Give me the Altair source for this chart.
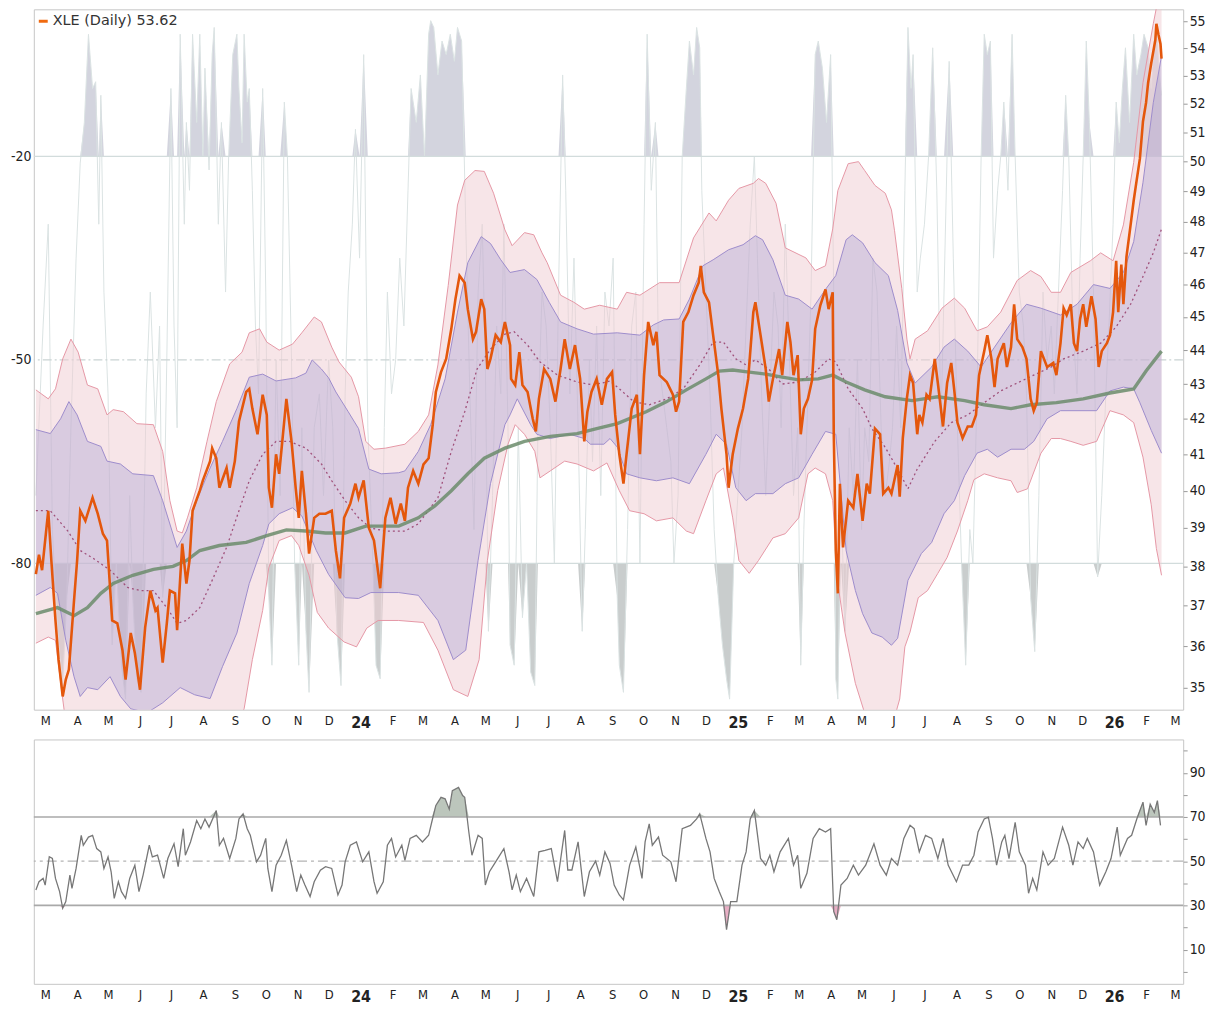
import altair as alt
import pandas as pd

START = pd.Timestamp("2023-02-20")

# ---- series: (day offset from START, value) ----
price = [(0,37.8),(3,38.3),(6,37.9),(12,39.46),(15,38.15),(19,36.63),(22,35.67),(26,34.79),(29,35.19),(32,35.43),(37,37.13),(40,38.15),(43,39.46),(48,39.19),(55,39.81),(60,39.38),(65,38.85),(69,38.67),(74,36.63),(79,36.56),(84,35.9),(87,35.19),(92,36.32),(96,35.83),(101,34.95),(106,36.46),(111,37.38),(116,36.88),(118,36.95),(123,35.6),(127,36.56),(130,37.38),(135,37.31),(137,36.39),(142,38.59),(146,37.56),(149,38.15),(152,39.46),(159,40.0),(162,40.28),(169,40.81),(171,41.17),(175,40.89),(178,40.08),(185,40.62),(188,40.08),(193,40.81),(197,41.92),(204,42.77),(207,42.86),(210,42.29),(215,41.56),(220,42.69),(224,42.11),(226,40.08),(229,39.54),(233,41.0),(236,40.46),(243,42.57),(248,41.36),(252,40.08),(255,39.27),(258,40.54),(262,39.38),(265,38.33),(270,39.27),(275,39.38),(281,39.38),(287,39.46),(291,38.41),(295,37.69),(299,39.27),(305,39.65),(310,40.19),(313,39.81),(318,40.28),(323,39.0),(328,38.67),(334,37.44),(339,39.27),(344,39.81),(349,39.11),(354,39.65),(358,39.19),(361,40.08),(366,40.54),(371,40.19),(376,40.72),(381,40.89),(385,41.83),(388,42.77),(393,43.35),(398,43.74),(403,44.64),(407,45.55),(411,46.28),(416,46.06),(419,45.24),(424,44.33),(427,44.55),(432,45.55),(435,45.24),(438,43.44),(441,43.74),(446,44.45),(451,44.24),(455,44.85),(460,44.15),(461,43.15),(465,42.97),(469,43.94),(472,42.97),(477,42.77),(482,42.0),(485,41.64),(488,42.57),(493,43.44),(499,43.15),(504,42.49),(509,43.44),(513,44.33),(518,43.44),(523,44.15),(528,43.15),(532,41.36),(535,42.2),(539,42.77),(544,43.15),(549,42.4),(554,43.15),(559,43.35),(562,42.11),(566,41.0),(570,40.19),(573,41.0),(578,42.29),(583,42.69),(586,41.0),(590,43.26),(594,44.85),(599,44.15),(602,44.55),(605,43.26),(612,43.06),(618,42.69),(621,42.2),(624,42.49),(628,44.85),(633,45.15),(638,45.67),(643,46.06),(645,46.59),(648,45.76),(653,45.45),(657,44.45),(662,43.26),(665,42.29),(670,41.0),(672,40.08),(676,41.0),(681,41.72),(686,42.29),(691,43.15),(696,45.15),(698,45.45),(703,44.45),(708,43.44),(711,42.49),(715,43.15),(721,44.03),(724,43.26),(729,44.85),(732,44.24),(735,43.26),(739,43.85),(742,41.56),(745,42.29),(749,42.57),(753,43.12),(756,44.64),(761,45.36),(766,45.85),(769,45.24),(773,45.76),(774,41.64),(776,38.41),(778,37.31),(780,40.19),(783,38.49),(788,39.73),(793,39.54),(797,40.46),(802,39.19),(806,40.19),(809,39.92),(814,41.72),(819,41.56),(822,39.92),(827,40.08),(830,39.92),(836,40.7),(838,39.84),(841,41.45),(845,42.6),(848,43.26),(851,43.03),(855,41.56),(857,42.11),(860,41.89),(864,42.69),(867,42.57),(872,43.74),(875,43.03),(880,41.78),(884,43.03),(888,43.62),(891,42.8),(894,41.89),(899,41.45),(904,41.78),(908,41.78),(912,42.11),(915,43.26),(920,43.97),(923,44.45),(927,43.74),(930,42.91),(933,43.74),(939,44.21),(942,43.5),(946,44.09),(949,45.39),(952,44.33),(957,44.09),(961,43.74),(965,42.57),(968,42.23),(971,42.46),(975,43.97),(981,43.5),(987,43.62),(990,43.26),(994,44.21),(997,45.27),(1000,45.06),(1004,45.39),(1007,44.21),(1010,43.97),(1013,44.94),(1016,45.39),(1019,44.7),(1024,45.64),(1028,44.94),(1031,43.5),(1034,43.97),(1039,44.21),(1042,44.45),(1045,45.15),(1048,46.75),(1050,45.15),(1053,46.63),(1055,45.39),(1058,46.88),(1062,47.9),(1065,48.7),(1067,49.17),(1071,50.1),(1074,51.38),(1077,52.04),(1079,52.75),(1082,53.45),(1086,54.3),(1087,54.9),(1089,54.5),(1091,54.15),(1092,53.62)]

outer_upper = [(0,42.83),(12,42.57),(19,42.86),(26,43.74),(34,44.33),(41,43.94),(50,42.97),(60,42.86),(69,42.11),(75,42.26),(85,42.2),(98,41.86),(114,41.83),(123,41.08),(130,39.73),(137,38.92),(142,38.87),(147,39.27),(156,40.08),(166,41.36),(175,42.49),(188,43.59),(200,43.94),(207,44.52),(217,44.64),(224,44.24),(236,44.0),(249,44.18),(258,44.52),(270,45.0),(277,44.85),(287,44.09),(294,43.65),(306,43.2),(313,42.63),(320,41.36),(328,41.14),(339,41.17),(358,41.28),(371,41.64),(381,42.11),(390,43.56),(400,45.97),(409,48.55),(416,49.37),(426,49.7),(435,49.67),(444,48.94),(455,47.74),(462,47.23),(474,47.65),(483,47.58),(491,47.0),(496,46.69),(509,45.67),(522,45.45),(532,45.24),(547,45.36),(564,45.24),(573,45.76),(586,45.67),(605,46.06),(624,46.06),(638,47.48),(653,48.29),(660,48.03),(672,48.71),(682,49.1),(696,49.27),(701,49.43),(708,49.27),(718,48.61),(727,47.16),(747,46.84),(756,46.44),(766,46.59),(773,47.77),(778,49.03),(788,49.93),(798,50.0),(804,49.7),(814,49.2),(824,48.94),(830,48.39),(833,47.71),(840,45.88),(845,44.33),(848,43.74),(853,44.33),(865,44.58),(879,45.27),(891,45.58),(901,45.27),(913,44.58),(923,44.7),(936,45.15),(952,46.13),(965,46.44),(975,46.25),(985,45.76),(994,45.76),(1004,46.38),(1023,46.75),(1033,47.0),(1045,46.75),(1055,47.9),(1065,49.97),(1074,52.75),(1084,54.9),(1092,56.5)]

inner_upper = [(0,41.69),(14,41.58),(24,42.0),(32,42.49),(40,42.11),(50,41.36),(63,41.22),(69,40.81),(82,40.73),(94,40.46),(114,40.41),(123,39.73),(137,38.49),(146,38.92),(156,39.73),(169,40.62),(181,41.36),(195,42.29),(207,43.2),(220,43.29),(233,43.09),(252,43.18),(262,43.32),(268,43.71),(277,43.44),(284,43.18),(291,42.77),(303,42.2),(313,41.72),(323,40.59),(335,40.46),(352,40.49),(358,40.54),(371,41.08),(383,41.83),(397,43.15),(409,45.15),(419,46.69),(432,47.52),(441,47.3),(451,46.78),(460,46.38),(474,46.47),(486,46.16),(498,45.45),(509,44.85),(525,44.64),(541,44.48),(564,44.52),(586,44.45),(599,44.76),(609,44.91),(624,44.94),(634,45.55),(647,46.59),(657,46.78),(672,47.1),(686,47.26),(698,47.55),(705,47.42),(715,46.78),(727,45.67),(740,45.55),(753,45.24),(766,45.85),(776,46.28),(786,47.42),(792,47.58),(802,47.32),(814,46.69),(827,46.28),(836,45.2),(845,43.62),(853,43.03),(869,43.5),(881,44.09),(891,44.33),(904,43.97),(917,43.5),(930,44.09),(946,44.82),(961,45.39),(975,45.27),(994,45.06),(1010,45.39),(1026,46.0),(1042,45.88),(1055,46.38),(1065,47.36),(1074,49.3),(1084,52.04),(1092,53.72)]

middle = [(0,39.46),(14,39.46),(31,38.92),(43,38.41),(56,38.2),(72,37.9),(89,37.46),(101,37.38),(114,37.38),(127,36.95),(137,36.56),(146,36.63),(159,36.95),(171,37.64),(185,38.49),(197,39.46),(207,40.27),(220,41.0),(233,41.36),(246,41.36),(262,41.17),(277,40.73),(287,40.27),(300,39.73),(313,39.27),(325,39.0),(339,38.92),(358,38.92),(371,39.11),(390,39.81),(403,41.08),(416,42.2),(428,43.44),(441,44.03),(455,44.48),(464,44.55),(477,44.15),(489,43.65),(506,43.26),(525,43.06),(541,42.97),(557,43.09),(566,42.86),(580,42.49),(595,42.4),(612,42.57),(628,42.86),(644,43.56),(657,44.24),(667,44.24),(679,43.74),(689,43.56),(698,43.71),(711,43.44),(724,43.0),(740,43.06),(756,43.35),(769,43.74),(776,43.65),(788,42.86),(802,42.29),(811,41.72),(824,41.19),(836,40.59),(846,40.05),(855,40.59),(872,41.36),(888,41.89),(904,42.11),(920,42.46),(936,42.8),(952,43.03),(968,43.26),(985,43.5),(997,43.74),(1016,43.97),(1033,44.21),(1048,44.7),(1062,45.39),(1074,46.25),(1084,47.0),(1092,47.77)]

inner_lower = [(0,37.26),(14,37.46),(21,37.31),(29,36.14),(37,35.26),(43,34.79),(50,35.0),(60,34.95),(72,35.26),(82,34.79),(92,34.5),(108,34.41),(123,34.64),(140,35.0),(154,34.83),(169,34.74),(181,35.5),(195,36.32),(207,37.56),(220,38.54),(226,39.11),(236,39.38),(249,39.54),(258,39.32),(272,38.41),(284,37.79),(300,37.2),(313,37.18),(325,37.33),(352,37.33),(371,37.26),(390,36.63),(405,35.67),(417,35.9),(429,38.15),(441,40.19),(455,41.83),(460,42.11),(467,42.57),(480,41.83),(486,41.56),(499,41.44),(518,41.56),(532,41.44),(538,41.28),(551,41.28),(557,41.44),(564,41.2),(573,40.46),(586,40.35),(602,40.27),(618,40.35),(634,40.19),(650,41.0),(660,41.56),(670,41.28),(679,40.08),(689,39.73),(698,39.92),(715,39.92),(727,40.19),(740,40.35),(753,41.0),(766,41.64),(776,41.56),(786,38.41),(795,37.38),(802,36.8),(811,36.32),(821,36.22),(830,36.02),(836,36.19),(846,37.64),(859,38.33),(869,38.62),(881,39.38),(891,39.73),(901,40.41),(913,41.03),(923,41.14),(933,40.92),(946,41.14),(959,41.14),(968,41.36),(981,42.0),(994,42.23),(1010,42.23),(1029,42.23),(1042,42.8),(1055,42.91),(1065,42.86),(1071,42.46),(1082,41.67),(1092,41.03)]

outer_lower = [(0,36.07),(12,36.22),(19,36.14),(26,34.73),(30,34.0),(111,33.0),(196,34.2),(202,34.5),(210,35.67),(220,36.88),(226,37.97),(236,38.67),(248,38.8),(255,38.54),(265,37.77),(273,36.83),(284,36.44),(299,36.1),(311,35.98),(321,36.44),(332,36.63),(352,36.63),(376,36.58),(390,35.9),(405,34.95),(419,34.79),(430,35.67),(438,38.15),(448,40.0),(458,41.28),(465,41.83),(474,41.56),(484,41.08),(489,40.35),(499,40.54),(513,40.81),(525,40.73),(541,40.54),(554,40.76),(566,40.0),(576,39.46),(590,39.38),(602,39.19),(618,39.27),(631,38.92),(638,38.85),(650,39.73),(660,40.46),(667,40.62),(676,39.27),(682,38.15),(692,37.82),(701,38.15),(715,38.74),(727,38.85),(740,39.27),(749,40.46),(756,40.62),(766,40.46),(773,39.73),(778,37.56),(785,36.32),(795,35.1),(804,34.4),(819,33.8),(833,34.3),(838,34.73),(843,35.98),(848,36.34),(856,37.2),(865,37.38),(875,37.82),(884,38.23),(894,38.92),(904,39.73),(910,40.3),(920,40.46),(933,40.35),(946,40.27),(952,39.95),(962,40.05),(975,41.03),(985,41.44),(994,41.44),(1004,41.36),(1016,41.25),(1029,41.36),(1042,42.23),(1055,42.11),(1065,41.89),(1074,40.92),(1082,39.62),(1087,38.46),(1092,37.77)]

ma_long = [(0,36.8),(21,36.95),(37,36.75),(50,36.95),(63,37.31),(75,37.56),(94,37.77),(114,37.92),(133,38.0),(146,38.15),(159,38.41),(178,38.54),(204,38.62),(224,38.8),(243,38.95),(262,38.92),(281,38.87),(300,38.87),(320,39.05),(352,39.05),(371,39.27),(387,39.59),(403,40.0),(419,40.46),(435,40.89),(455,41.17),(474,41.36),(499,41.5),(525,41.58),(544,41.72),(564,41.86),(592,42.2),(612,42.49),(631,42.83),(650,43.15),(663,43.38),(676,43.41),(692,43.35),(708,43.29),(724,43.2),(740,43.12),(759,43.15),(773,43.26),(786,43.06),(804,42.83),(824,42.63),(850,42.52),(875,42.63),(901,42.52),(920,42.4),(946,42.29),(965,42.4),(990,42.46),(1016,42.57),(1042,42.74),(1065,42.86),(1077,43.38),(1092,43.97)]

williams_r = [(0,-70),(7,-45),(12,-30),(16,-75),(21,-90),(26,-98),(30,-85),(34,-60),(39,-35),(43,-21),(47,-15),(51,-2),(55,-10),(58,-9),(61,-30),(63,-11),(66,-40),(70,-55),(74,-92),(78,-80),(83,-95),(87,-100),(91,-70),(94,-85),(98,-97),(102,-99),(107,-55),(111,-40),(116,-60),(120,-45),(123,-85),(127,-50),(131,-10),(134,-45),(137,-60),(140,-2),(144,-30),(146,-15),(149,-25),(152,-2),(156,-15),(159,-2),(162,-20),(164,-7),(168,-22),(171,-5),(173,-1),(177,-30),(180,-15),(184,-40),(187,-20),(191,-5),(195,-2),(197,-10),(200,-18),(202,-2),(205,-12),(207,-10),(210,-25),(213,-45),(216,-55),(220,-10),(223,-40),(226,-85),(229,-95),(233,-50),(237,-70),(241,-12),(244,-20),(248,-50),(251,-80),(255,-95),(258,-60),(262,-90),(265,-99),(270,-60),(275,-55),(279,-70),(284,-50),(288,-60),(292,-90),(296,-98),(300,-55),(303,-40),(307,-30),(310,-16),(314,-35),(318,-5),(322,-60),(327,-80),(330,-95),(334,-97),(338,-60),(341,-40),(345,-55),(349,-50),(353,-35),(357,-45),(361,-25),(364,-10),(369,-15),(373,-8),(377,-20),(381,-2),(383,0),(386,-1),(390,-8),(394,-3),(398,-5),(402,-2),(406,-6),(409,-1),(413,-3),(417,-30),(421,-55),(425,-75),(429,-40),(433,-30),(436,-50),(439,-90),(443,-70),(447,-45),(451,-55),(454,-30),(458,-60),(460,-92),(464,-95),(468,-60),(472,-88),(476,-80),(480,-96),(484,-98),(487,-60),(491,-40),(495,-45),(499,-60),(503,-80),(507,-40),(511,-8),(514,-25),(518,-55),(522,-35),(526,-60),(530,-90),(533,-75),(537,-50),(540,-65),(544,-45),(548,-70),(552,-40),(556,-45),(560,-35),(564,-85),(566,-95),(570,-99),(574,-75),(578,-45),(582,-40),(586,-80),(590,-30),(593,-2),(597,-25),(601,-15),(604,-50),(608,-55),(612,-60),(616,-65),(619,-80),(623,-70),(627,-20),(631,-10),(634,-3),(638,-8),(641,-1),(644,-4),(646,-25),(650,-40),(654,-55),(658,-75),(662,-85),(666,-92),(670,-97),(673,-100),(677,-80),(681,-70),(685,-60),(689,-45),(693,-30),(697,-20),(700,-35),(704,-55),(708,-70),(712,-55),(716,-40),(720,-45),(723,-60),(727,-30),(731,-50),(735,-70),(739,-60),(742,-95),(745,-75),(749,-55),(752,-40),(756,-5),(759,-3),(763,-7),(767,-15),(771,-5),(774,-40),(776,-97),(778,-100),(781,-70),(785,-90),(789,-60),(793,-70),(797,-50),(801,-75),(804,-60),(808,-65),(812,-35),(816,-40),(820,-60),(824,-70),(828,-65),(831,-60),(835,-45),(839,-60),(843,-25),(846,-1),(849,-10),(851,-5),(855,-40),(858,-35),(862,-30),(866,-20),(870,-4),(874,-25),(878,-60),(881,-40),(886,-6),(890,-35),(894,-60),(898,-80),(902,-95),(906,-75),(909,-80),(913,-55),(917,-20),(920,-2),(923,-5),(926,-3),(929,-35),(933,-25),(936,-20),(939,-12),(943,-25),(947,-2),(950,-20),(954,-40),(958,-45),(961,-55),(965,-85),(969,-93),(973,-70),(977,-40),(981,-50),(985,-45),(988,-55),(992,-40),(996,-25),(999,-11),(1002,-20),(1006,-45),(1010,-55),(1013,-35),(1016,-20),(1019,-3),(1022,-15),(1026,-40),(1030,-82),(1034,-70),(1038,-55),(1041,-45),(1045,-30),(1048,-12),(1051,-18),(1054,-10),(1057,-4),(1061,-15),(1065,-2),(1068,-8),(1072,-5),(1075,-2),(1079,-4),(1082,-10),(1085,-3),(1087,-1),(1090,-8),(1092,-11)]

rsi = [(0,37),(3,40.7),(7,42.2),(9,39.2),(13,52),(16,51.2),(19,42.2),(23,36.2),(26,28.7),(29,31.7),(33,43.7),(35,37.7),(39,46.7),(44,61.7),(46,57.2),(51,60.9),(55,61.7),(59,55.7),(63,54.2),(66,46.7),(70,51.9),(73,45.2),(76,33.2),(80,40.7),(83,36.2),(87,33.2),(91,42.2),(96,48.2),(100,36.2),(104,43.7),(110,57.2),(113,51.9),(118,52.7),(124,42.2),(128,51.2),(134,57.9),(138,47.5),(143,64.7),(145,52.7),(150,58.7),(156,68.4),(160,64.7),(164,69.1),(168,65.4),(175,72.9),(178,57.2),(182,60.3),(188,51.2),(194,60.3),(197,69.1),(201,71.4),(205,64.7),(208,61.7),(214,49.7),(218,52.7),(223,60.3),(225,46.7),(229,36.2),(233,48.2),(238,52.7),(243,59.4),(248,48.2),(253,36.2),(257,43.7),(261,39.2),(266,34),(270,40.7),(276,45.9),(281,47.5),(287,46.7),(293,34.7),(297,39.2),(300,49.7),(305,57.2),(311,58.7),(317,49.7),(323,54.2),(328,40.7),(331,35.5),(337,40.7),(341,57.2),(345,60.3),(349,51.9),(355,57.2),(358,50.4),(363,60.3),(369,61.7),(375,58.7),(381,61.7),(384,67.6),(388,75.2),(393,78.9),(397,78.2),(401,73.5),(404,81.9),(410,83.4),(414,79.7),(416,78.9),(420,63.2),(423,52.7),(429,61.7),(433,60.3),(436,39.2),(440,45.2),(446,49.7),(454,55.7),(459,45.2),(462,37),(466,43.7),(470,36.2),(476,42.2),(483,34),(488,54.2),(494,54.9),(500,55.7),(506,40.7),(513,63.9),(516,46),(520,46),(526,58.7),(532,34),(537,45.2),(543,50),(547,43.7),(552,54.2),(557,49),(561,39.2),(566,34.7),(570,32.5),(576,48.2),(582,56.4),(588,42.2),(591,58.7),(595,66.9),(598,57.2),(604,60.9),(608,52.7),(616,49.7),(621,40.7),(627,64.7),(635,66.2),(641,69.1),(644,71.4),(650,60.3),(654,54.2),(658,42.2),(663,36.2),(667,31.7),(670,19),(674,31.7),(680,31.7),(685,48.2),(689,54.2),(693,69.1),(697,72.9),(703,51.2),(708,48.2),(712,52.7),(716,45.2),(722,54.2),(730,60.3),(735,48.2),(739,52.7),(742,37.7),(748,44.5),(754,60.3),(760,64.7),(766,63.2),(771,64.7),(774,27.2),(777,23.5),(781,39.2),(787,42.2),(793,48.2),(798,43.7),(805,48.2),(813,57.9),(819,48.2),(825,43.7),(830,51.2),(836,48.2),(842,60.3),(848,66.2),(852,64.7),(857,54.2),(863,61.7),(869,60.3),(875,51.2),(880,60.3),(885,48.2),(893,40.7),(899,48.2),(905,48.2),(910,52.7),(914,63.2),(920,69.1),(924,69.9),(928,60.3),(932,48.2),(937,58.7),(940,61.7),(944,51.2),(950,67.6),(954,54.2),(960,48.2),(963,35.5),(967,42.2),(971,37),(977,54.2),(982,48.2),(988,51.2),(996,65.4),(1002,57.2),(1006,48.2),(1011,58.7),(1016,55.7),(1020,60.3),(1026,54.2),(1032,39.2),(1038,45.2),(1043,51.2),(1049,65.4),(1052,52.7),(1059,60.3),(1063,61.7),(1068,69.1),(1074,76.7),(1077,66.2),(1081,75.8),(1085,72.1),(1088,77.4),(1091,66.2)]

price_axis_ticks = list(range(35, 56))
wr_levels_solid = [-20, -80]
wr_level_mid = [-50]
rsi_levels_solid = [70, 30]
rsi_level_mid = [50]
legend_label = ["XLE (Daily) 53.62"]


def frame(points, name):
    return pd.DataFrame({
        "date": START + pd.to_timedelta([p[0] for p in points], unit="D"),
        name: [p[1] for p in points],
    })


def polygon(upper, lower):
    pts = list(upper) + list(reversed(lower))
    out = frame(pts, "v")
    out["o"] = range(len(pts))
    return out


FONT = "Liberation Sans Narrow, DejaVu Sans Condensed, Arial Narrow, sans-serif"

month_ticks = [alt.DateTime(year=t.year, month=t.month, date=1)
               for t in pd.date_range("2023-03-01", "2026-03-01", freq="MS")]
x_scale = alt.Scale(domain=[alt.DateTime(year=2023, month=2, date=18),
                            alt.DateTime(year=2026, month=3, date=9)])
x_axis = alt.Axis(
    values=month_ticks,
    labelExpr="month(datum.value) == 0 ? timeFormat(datum.value, '%y') : slice(timeFormat(datum.value, '%b'), 0, 1)",
    labelFontWeight=alt.condition("month(datum.value) == 0", alt.value("bold"), alt.value("normal")),
    labelFontSize=alt.condition("month(datum.value) == 0", alt.value(16), alt.value(13)),
    labelFont=FONT, labelColor="#222", tickSize=0, domain=False, grid=False,
    labelPadding=5, labelFlush=False, labelOverlap=False, title=None)
X = alt.X("date:T", scale=x_scale, axis=x_axis, title=None)

# ---------------- top panel: Williams %R (left) ----------------
wr_scale = alt.Scale(domain=[-101.55, 1.67], nice=False, zero=False)
wr_axis = alt.Axis(orient="left", values=[-20, -50, -80],
                   labelExpr="'-' + format(abs(datum.value), 'd')",
                   labelFont=FONT, labelFontSize=14, labelColor="#222",
                   tickSize=0, labelPadding=3, domain=False, grid=False,
                   minExtent=25, maxExtent=25, title=None)

wr_df = frame(williams_r, "r")

def WY(field):
    return alt.Y(field, scale=wr_scale, axis=wr_axis, title=None)

wr_line = alt.Chart(wr_df).mark_line(color="#dbe3e3", strokeWidth=1, clip=True).encode(x=X, y=WY("r:Q"))
wr_hi = alt.Chart(wr_df).transform_calculate(top="max(datum.r, -20)", base="-20").mark_area(
    color="#d3d4de", opacity=1, clip=True).encode(x=X, y=WY("top:Q"), y2="base:Q")
wr_lo = alt.Chart(wr_df).transform_calculate(bot="min(datum.r, -80)", base="-80").mark_area(
    color="#c9cdcd", opacity=1, clip=True).encode(x=X, y=WY("bot:Q"), y2="base:Q")
wr_rules = alt.Chart(pd.DataFrame({"r": wr_levels_solid})).mark_rule(
    color="#d2dcdc", strokeWidth=1.2).encode(y=WY("r:Q"))
wr_rule_mid = alt.Chart(pd.DataFrame({"r": wr_level_mid})).mark_rule(
    color="#cad4d4", strokeWidth=1.2, strokeDash=[9, 3, 2, 3]).encode(y=WY("r:Q"))

wr_group = alt.layer(wr_hi, wr_lo, wr_line, wr_rules, wr_rule_mid)

# ---------------- top panel: price (right, log) ----------------
p_scale = alt.Scale(type="log", domain=[34.48, 55.44], nice=False, zero=False)
p_axis = alt.Axis(orient="right", values=price_axis_ticks, format="d",
                  labelFont=FONT, labelFontSize=14, labelColor="#222",
                  tickSize=4, tickColor="#999", labelPadding=2,
                  domain=False, grid=False, title=None)

def PY(field):
    return alt.Y(field, scale=p_scale, axis=p_axis, title=None)

outer_poly = alt.Chart(polygon(outer_upper, outer_lower)).mark_line(
    fill="#f0cbd2", fillOpacity=0.5, strokeOpacity=0, clip=True).encode(x=X, y=PY("v:Q"), order="o:Q")
inner_poly = alt.Chart(polygon(inner_upper, inner_lower)).mark_line(
    fill="#a09cd0", fillOpacity=0.35, strokeOpacity=0, clip=True).encode(x=X, y=PY("v:Q"), order="o:Q")

def band_line(points, color):
    return alt.Chart(frame(points, "v")).mark_line(color=color, strokeWidth=1, clip=True).encode(x=X, y=PY("v:Q"))

ou_line = band_line(outer_upper, "#e597a5")
ol_line = band_line(outer_lower, "#e597a5")
iu_line = band_line(inner_upper, "#9d8ccc")
il_line = band_line(inner_lower, "#9d8ccc")
mid_line = alt.Chart(frame(middle, "v")).mark_line(
    color="#a0507a", strokeWidth=1.3, strokeDash=[2, 3], clip=True).encode(x=X, y=PY("v:Q"))
ma_line = alt.Chart(frame(ma_long, "v")).mark_line(
    color="#6b8c6b", strokeWidth=3.4, opacity=0.85, clip=True).encode(x=X, y=PY("v:Q"))
price_line = alt.Chart(frame(price, "v")).mark_line(
    color="#e4570c", strokeWidth=2.6, clip=True).encode(x=X, y=PY("v:Q"))

legend_df = pd.DataFrame({"t": legend_label})
legend_dash = alt.Chart(legend_df).mark_rule(color="#f06a10", strokeWidth=3).encode(
    x=alt.value(5), x2=alt.value(14), y=alt.value(12))
legend_text = alt.Chart(legend_df).mark_text(
    align="left", baseline="middle", font="DejaVu Sans", fontSize=14.5, color="#333").encode(
    x=alt.value(19), y=alt.value(12), text="t:N")

p_group = alt.layer(outer_poly, inner_poly, ou_line, ol_line, iu_line, il_line,
                    mid_line, ma_line, price_line, legend_dash, legend_text)

top = alt.layer(wr_group, p_group).resolve_scale(y="independent").properties(width=1157, height=705)

# ---------------- bottom panel: RSI ----------------
rsi_scale = alt.Scale(domain=[-5.5, 105.06], nice=False, zero=False)
rsi_axis = alt.Axis(orient="right", values=list(range(0, 101, 10)),
                    labelExpr="datum.value % 20 == 10 ? datum.label : ''",
                    labelFont=FONT, labelFontSize=14, labelColor="#222",
                    tickSize=4, tickColor="#999", labelPadding=2,
                    domain=False, grid=False, title=None)

def RY(field):
    return alt.Y(field, scale=rsi_scale, axis=rsi_axis, title=None)

rsi_df = frame(rsi, "v")
rsi_hi = alt.Chart(rsi_df).transform_calculate(top="max(datum.v, 70)", base="70").mark_area(
    color="#bcc6bc", clip=True).encode(x=X, y=RY("top:Q"), y2="base:Q")
rsi_lo = alt.Chart(rsi_df).transform_calculate(bot="min(datum.v, 30)", base="30").mark_area(
    color="#e7aec4", clip=True).encode(x=X, y=RY("bot:Q"), y2="base:Q")
rsi_rules = alt.Chart(pd.DataFrame({"v": rsi_levels_solid})).mark_rule(
    color="#a9a9a9", strokeWidth=1.6).encode(y=RY("v:Q"))
rsi_rule_mid = alt.Chart(pd.DataFrame({"v": rsi_level_mid})).mark_rule(
    color="#b4b4b4", strokeWidth=1.4, strokeDash=[10, 4, 3, 4]).encode(y=RY("v:Q"))
rsi_line = alt.Chart(rsi_df).mark_line(color="#777777", strokeWidth=1.3, clip=True).encode(x=X, y=RY("v:Q"))

bottom = alt.layer(rsi_hi, rsi_lo, rsi_rules, rsi_rule_mid, rsi_line).properties(width=1157, height=246)

chart = alt.vconcat(top, bottom, spacing=30, bounds="flush").properties(
    padding={"left": 0, "top": -3, "right": 4, "bottom": 2}
).configure_view(stroke="#c6c6c6", strokeWidth=1)

chart.save("out.html", embed_options={"renderer": "svg", "actions": False})
